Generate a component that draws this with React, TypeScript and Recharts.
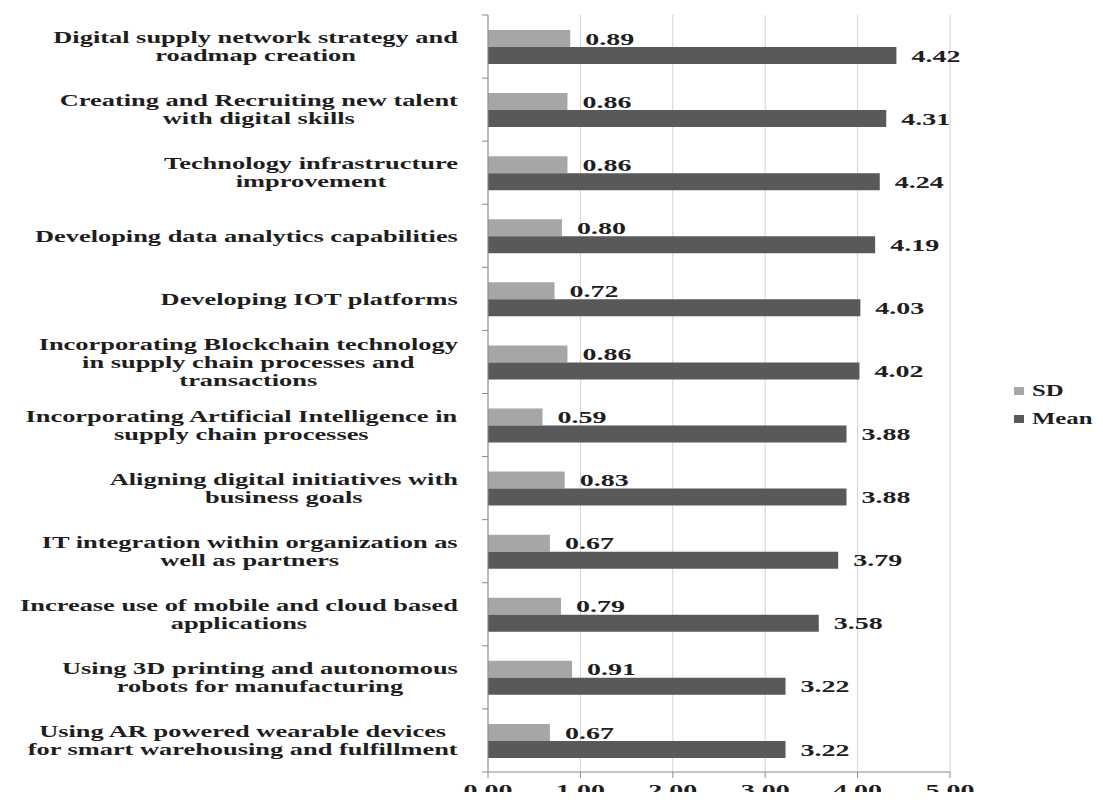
import React from "react";
import { BarChart, Bar, XAxis, YAxis, CartesianGrid, LabelList } from "recharts";

// category labels, already split into the lines shown in the picture (top to bottom)
const CATEGORIES: string[][] = [
	["Digital supply network strategy and", "roadmap creation"],
	["Creating and Recruiting new talent", "with digital skills"],
	["Technology infrastructure", "improvement"],
	["Developing data analytics capabilities"],
	["Developing IOT platforms"],
	["Incorporating Blockchain technology", "in supply chain processes and", "transactions"],
	["Incorporating Artificial Intelligence in", "supply chain processes"],
	["Aligning digital initiatives with", "business goals"],
	["IT integration within organization as", "well as partners"],
	["Increase use of mobile and cloud based", "applications"],
	["Using 3D printing and autonomous", "robots for manufacturing"],
	["Using AR powered wearable devices", "for smart warehousing and fulfillment"],
];

const SD = [0.89, 0.86, 0.86, 0.8, 0.72, 0.86, 0.59, 0.83, 0.67, 0.79, 0.91, 0.67];
const MEAN = [4.42, 4.31, 4.24, 4.19, 4.03, 4.02, 3.88, 3.88, 3.79, 3.58, 3.22, 3.22];
const X_TICKS = [0, 1, 2, 3, 4, 5];

const SD_COLOR = "#a6a6a6";
const MEAN_COLOR = "#595959";
const AXIS_COLOR = "#8c8c8c";
const GRID_COLOR = "#d2d2d2";
const TEXT_COLOR = "#1e1e1e";
const FONT = "'Liberation Serif', 'Times New Roman', serif";
// the source image is stretched sideways, so text is widened to match
const STRETCH = 1.6;
const LABEL_SIZE = 16.5;
const NUM_SIZE = 17.5;

const data = CATEGORIES.map((lines, i) => ({
	name: lines.join(" "),
	lines,
	sd: SD[i],
	mean: MEAN[i],
}));

let ctx: CanvasRenderingContext2D | null = null;
function textWidth(s: string, size: number) {
	if (!ctx) ctx = document.createElement("canvas").getContext("2d");
	if (!ctx) return s.length * size * 0.5;
	ctx.font = `bold ${size}px 'Liberation Serif'`;
	return ctx.measureText(s).width;
}

function CategoryTick(props: any) {
	const { x, y, payload } = props;
	const row = data.find((d) => d.name === payload.value);
	const lines = row ? row.lines : [String(payload.value)];
	const half = payload.offset || 31.5;
	const isLast = row === data[data.length - 1];
	const maxW = Math.max(...lines.map((l) => textWidth(l, LABEL_SIZE)));
	const right = x - 30;
	const cx = right - (maxW * STRETCH) / 2;
	const lh = 18;
	const top = y - ((lines.length - 1) * lh) / 2;
	return (
		<g>
			<line x1={x - 6} x2={x} y1={y - half} y2={y - half} stroke={AXIS_COLOR} />
			{isLast && <line x1={x - 6} x2={x} y1={y + half} y2={y + half} stroke={AXIS_COLOR} />}
			<g transform={`translate(${cx},${top}) scale(${STRETCH},1)`}>
				<text
					textAnchor="middle"
					fontFamily={FONT}
					fontWeight="bold"
					fontSize={LABEL_SIZE}
					fill={TEXT_COLOR}
				>
					{lines.map((l, i) => (
						<tspan key={i} x={0} y={i * lh} dy="0.35em">
							{l}
						</tspan>
					))}
				</text>
			</g>
		</g>
	);
}

function ValueTick(props: any) {
	const { x, y, payload } = props;
	return (
		<g transform={`translate(${x},${y + 10}) scale(${STRETCH},1)`}>
			<text
				textAnchor="middle"
				dy="0.35em"
				fontFamily={FONT}
				fontWeight="bold"
				fontSize={NUM_SIZE}
				fill={TEXT_COLOR}
			>
				{Number(payload.value).toFixed(2)}
			</text>
		</g>
	);
}

function BarValue(props: any) {
	const { x, y, width, height, value } = props;
	return (
		<g transform={`translate(${Number(x) + Number(width) + 15},${Number(y) + Number(height) / 2}) scale(${STRETCH},1)`}>
			<text
				dy="0.35em"
				fontFamily={FONT}
				fontWeight="bold"
				fontSize={NUM_SIZE}
				fill={TEXT_COLOR}
			>
				{Number(value).toFixed(2)}
			</text>
		</g>
	);
}

const legendItems = [
	{ label: "SD", color: SD_COLOR, top: 391 },
	{ label: "Mean", color: MEAN_COLOR, top: 419 },
];

export default function App() {
	return (
		<div style={{ position: "relative", width: 1103, height: 800, margin: -8, background: "#fff" }}>
			<BarChart
				width={1103}
				height={800}
				data={data}
				layout="vertical"
				margin={{ top: 15, right: 153, bottom: 0, left: 0 }}
				barSize={17}
				barGap={0}
			>
				<CartesianGrid horizontal={false} stroke={GRID_COLOR} />
				<XAxis
					type="number"
					domain={[0, 5]}
					ticks={X_TICKS}
					interval={0}
					height={28}
					tickSize={6}
					stroke={AXIS_COLOR}
					tick={<ValueTick />}
				/>
				<YAxis
					type="category"
					dataKey="name"
					width={488}
					interval={0}
					tickSize={0}
					tickMargin={0}
					tickLine={false}
					stroke={AXIS_COLOR}
					tick={<CategoryTick />}
				/>
				<Bar dataKey="sd" name="SD" fill={SD_COLOR} isAnimationActive={false}>
					<LabelList dataKey="sd" content={<BarValue />} />
				</Bar>
				<Bar dataKey="mean" name="Mean" fill={MEAN_COLOR} isAnimationActive={false}>
					<LabelList dataKey="mean" content={<BarValue />} />
				</Bar>
			</BarChart>
			{legendItems.map((it) => (
				<div key={it.label}>
					<div
						style={{
							position: "absolute",
							left: 1014,
							top: it.top - 4,
							width: 10,
							height: 8,
							background: it.color,
						}}
					/>
					<div
						style={{
							position: "absolute",
							left: 1032,
							top: it.top - 10,
							height: 20,
							lineHeight: "20px",
							fontFamily: FONT,
							fontWeight: "bold",
							fontSize: LABEL_SIZE,
							color: TEXT_COLOR,
							whiteSpace: "nowrap",
							transform: "scaleX(1.5)",
							transformOrigin: "left center",
						}}
					>
						{it.label}
					</div>
				</div>
			))}
		</div>
	);
}
